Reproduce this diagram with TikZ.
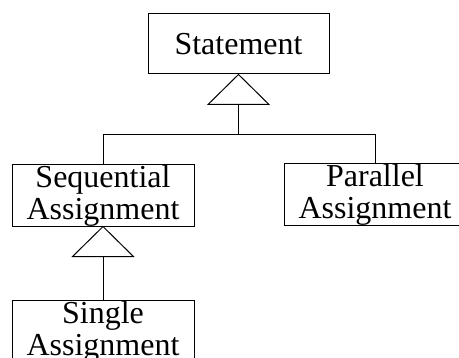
\documentclass[tikz,border=0pt]{standalone}
\usepackage{fontspec}
\setmainfont{Liberation Serif}
\begin{document}
\begin{tikzpicture}[x=1pt,y=-1pt,
  box/.style={draw, line width=1pt, inner sep=0pt, align=center,
    font=\fontsize{32}{32}\selectfont},
  link/.style={draw, line width=1pt}]
\useasboundingbox (0,0) rectangle (459,358);
\clip (0,0) rectangle (459,358);
\node[box, minimum width=181pt, minimum height=60pt] (stmt) at (238.5,44) {Statement};
\node[box, minimum width=182pt, minimum height=61pt] (seq) at (103,195.5) {Sequential\\Assignment};
\node[box, minimum width=182pt, minimum height=61pt] (par) at (375,194.5) {Parallel\\Assignment};
\node[box, minimum width=182pt, minimum height=61pt] (single) at (103,331.5) {Single\\Assignment};
\coordinate (bar) at (0,135);
% generalization triangle under Statement
\draw[link, line join=miter] (stmt.south) -- ++(-30.5,30) -- ++(61,0) -- cycle;
\coordinate (t1) at ([yshift=-30pt]stmt.south);
\draw[link] (t1) -- (t1 |- bar);
\draw[link] (seq.north) -- (seq.north |- bar) -- (par.north |- bar) -- (par.north);
% generalization triangle under Sequential Assignment
\draw[link, line join=miter] (seq.south) -- ++(-30.5,30) -- ++(61,0) -- cycle;
\coordinate (t2) at ([yshift=-30pt]seq.south);
\draw[link] (t2) -- (single.north);
\end{tikzpicture}
\end{document}
